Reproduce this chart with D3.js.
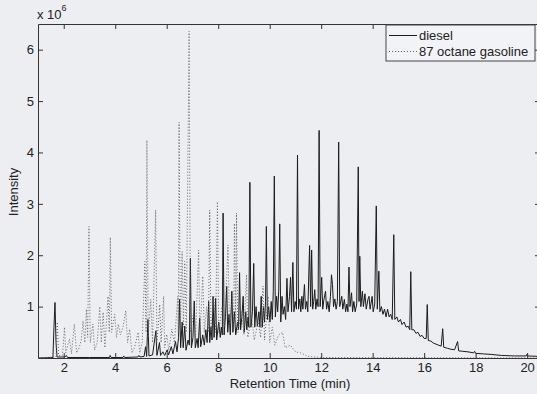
<!DOCTYPE html>
<html>
<head>
<meta charset="utf-8">
<script src="https://cdn.jsdelivr.net/npm/d3@7"></script>
<style>
  body { margin: 0; background: #eceef2; }
  svg text { font-family: "Liberation Sans", Arial, sans-serif; fill: #222; }
</style>
</head>
<body>
<svg id="chart" width="537" height="394"></svg>
<script>
// retention time (min), intensity (x 10^6)
const diesel = [
  [1.0,0.0],[1.58,0.01],[1.62,0.6],[1.66,1.08],[1.70,0.3],[1.74,0.02],[2.05,0.02],[2.1,0.05],[2.15,0.01],
  [3.0,0.01],[3.78,0.01],[3.8,0.05],[3.84,0.01],[4.3,0.01],[4.33,0.04],[4.37,0.01],[4.88,0.02],[4.92,0.05],[4.96,0.02],
  [5.12,0.03],[5.18,0.22],[5.22,0.03],[5.27,0.75],[5.31,0.04],[5.45,0.06],[5.58,0.53],[5.62,0.05],[5.72,0.3],[5.76,0.05],
  [5.85,0.12],[5.92,0.05],[6.02,0.16],[6.07,0.06],[6.18,0.22],[6.24,0.08],[6.34,0.32],[6.4,0.12],[6.46,0.4],[6.5,1.14],
  [6.54,0.2],[6.6,0.7],[6.64,0.2],[6.7,0.62],[6.75,0.15],[6.83,0.35],[6.88,0.25],[6.92,1.94],[6.96,0.2],[7.02,0.4],
  [7.07,1.11],[7.11,0.2],[7.18,0.38],[7.22,0.2],[7.28,0.78],[7.32,0.22],[7.4,0.45],[7.46,0.25],[7.52,0.55],[7.57,0.3],
  [7.63,1.1],[7.67,0.3],[7.72,0.6],[7.76,0.35],[7.8,1.2],[7.84,0.4],[7.9,1.16],[7.94,0.35],[8.02,0.7],[8.08,0.4],
  [8.12,0.6],[8.16,0.45],[8.19,2.82],[8.23,0.45],[8.28,0.8],[8.33,1.4],[8.37,0.5],[8.42,0.85],[8.47,0.45],[8.53,1.3],
  [8.57,0.5],[8.63,0.9],[8.68,0.45],[8.75,0.7],[8.79,0.55],[8.83,1.66],[8.87,0.55],[8.92,0.8],[8.97,1.2],[9.01,0.5],
  [9.07,0.9],[9.11,0.55],[9.16,0.8],[9.19,0.6],[9.23,3.42],[9.27,0.6],[9.33,0.9],[9.38,1.84],[9.42,0.6],[9.47,1.0],
  [9.52,0.62],[9.58,0.9],[9.62,0.6],[9.67,1.2],[9.71,0.6],[9.76,1.0],[9.8,0.7],[9.84,1.1],[9.87,2.56],[9.91,0.75],
  [9.96,1.0],[10.01,0.7],[10.06,1.1],[10.1,0.75],[10.14,1.3],[10.18,3.54],[10.22,0.8],[10.27,1.2],[10.31,0.9],[10.35,1.3],
  [10.39,2.61],[10.43,0.7],[10.48,1.2],[10.52,0.85],[10.57,1.0],[10.62,0.75],[10.67,1.55],[10.71,0.9],[10.77,1.2],[10.81,1.57],
  [10.85,0.9],[10.9,1.86],[10.94,0.9],[10.99,1.1],[11.04,0.95],[11.08,3.95],[11.12,0.95],[11.17,1.15],[11.21,0.9],[11.25,1.2],
  [11.29,0.95],[11.35,1.43],[11.39,0.95],[11.44,1.1],[11.48,0.9],[11.55,2.19],[11.59,1.0],[11.63,2.1],[11.67,0.95],[11.71,1.1],
  [11.75,1.33],[11.79,0.95],[11.84,1.15],[11.88,1.0],[11.92,4.43],[11.96,1.0],[12.02,1.57],[12.06,0.95],[12.11,1.15],[12.17,1.3],
  [12.21,0.95],[12.26,1.1],[12.31,0.9],[12.36,1.2],[12.4,1.62],[12.44,1.43],[12.48,1.0],[12.53,1.15],[12.58,0.95],[12.63,1.1],
  [12.68,4.2],[12.72,1.0],[12.8,1.2],[12.84,0.95],[12.9,1.14],[12.95,0.9],[13.0,1.05],[13.04,0.9],[13.08,1.77],[13.12,1.0],
  [13.18,1.27],[13.22,0.9],[13.27,1.1],[13.32,0.9],[13.38,1.05],[13.44,3.72],[13.47,1.1],[13.5,1.98],[13.54,1.0],[13.6,1.3],
  [13.64,1.0],[13.7,1.25],[13.75,0.95],[13.82,1.15],[13.86,1.2],[13.9,0.95],[13.98,1.2],[14.02,0.9],[14.08,1.05],[14.14,2.96],
  [14.18,0.95],[14.24,1.69],[14.28,0.9],[14.34,1.0],[14.4,0.85],[14.46,0.95],[14.52,0.8],[14.58,0.95],[14.64,0.8],[14.7,0.85],
  [14.76,0.75],[14.82,2.40],[14.86,0.75],[14.94,0.8],[15.0,0.7],[15.08,0.75],[15.14,0.65],[15.22,0.7],[15.3,0.6],[15.38,0.62],
  [15.44,0.55],[15.48,1.68],[15.52,0.55],[15.6,0.55],[15.68,0.48],[15.76,0.5],[15.84,0.42],[15.92,0.44],[16.0,0.38],[16.08,0.38],
  [16.12,1.04],[16.16,0.34],[16.26,0.33],[16.36,0.29],[16.46,0.27],[16.56,0.25],[16.66,0.23],[16.72,0.57],[16.76,0.21],[16.9,0.19],
  [17.04,0.17],[17.18,0.16],[17.3,0.32],[17.34,0.14],[17.5,0.13],[17.7,0.12],[17.92,0.1],[17.96,0.13],[18.0,0.09],[18.3,0.08],
  [18.6,0.07],[19.0,0.05],[19.5,0.04],[19.96,0.04],[19.99,0.07],[20.02,0.04],[20.5,0.03]
];

const gasoline = [
  [1.0,0.0],[1.7,0.02],[1.75,0.7],[1.8,0.05],[1.95,0.05],[2.03,0.6],[2.08,0.1],[2.22,0.37],[2.3,0.08],[2.41,0.66],
  [2.5,0.1],[2.6,0.2],[2.68,0.35],[2.75,0.72],[2.82,0.3],[2.88,0.95],[2.93,0.4],[2.98,2.56],[3.03,0.3],[3.13,0.66],
  [3.2,0.15],[3.3,0.3],[3.4,1.0],[3.46,0.3],[3.53,0.89],[3.6,0.2],[3.72,1.2],[3.77,0.5],[3.81,2.35],[3.86,0.5],
  [3.98,0.85],[4.05,0.4],[4.12,0.66],[4.2,0.45],[4.3,0.6],[4.41,0.92],[4.48,0.3],[4.56,0.56],[4.65,0.1],[4.75,0.2],
  [4.89,0.5],[4.95,0.1],[5.05,0.3],[5.15,1.88],[5.2,0.5],[5.23,4.24],[5.28,0.4],[5.38,1.14],[5.45,0.3],[5.57,2.88],
  [5.62,0.3],[5.73,1.04],[5.78,0.3],[5.88,1.2],[5.92,0.2],[6.0,0.46],[6.08,0.15],[6.2,0.56],[6.3,0.3],[6.43,1.2],
  [6.45,0.5],[6.48,4.59],[6.53,0.5],[6.6,2.07],[6.65,0.6],[6.7,1.88],[6.76,0.5],[6.87,6.36],[6.92,0.5],[7.05,0.9],
  [7.12,0.4],[7.24,2.1],[7.29,0.4],[7.4,1.59],[7.46,0.5],[7.55,1.0],[7.62,0.5],[7.67,2.88],[7.72,0.5],[7.83,1.2],
  [7.9,0.5],[7.97,3.04],[8.02,0.5],[8.15,1.0],[8.25,0.6],[8.38,2.2],[8.44,0.6],[8.55,1.2],[8.6,0.6],[8.63,2.62],
  [8.68,0.6],[8.71,2.82],[8.76,0.5],[8.9,0.9],[9.0,0.45],[9.1,1.62],[9.15,0.4],[9.3,0.8],[9.4,0.35],[9.55,0.7],
  [9.65,0.4],[9.74,1.4],[9.8,0.35],[9.94,1.2],[10.0,0.3],[10.1,0.6],[10.2,0.25],[10.35,0.45],[10.5,0.5],[10.6,0.2],
  [10.8,0.25],[11.0,0.12],[11.2,0.1],[11.5,0.03],[12.0,0.01],[20.5,0.0]
];

const xTicks = [2, 4, 6, 8, 10, 12, 14, 16, 18, 20];
const yTicks = [1, 2, 3, 4, 5, 6];
const seriesNames = ["diesel", "87 octane gasoline"];

const mLeft = 38, mRight = 540, mTop = 24, mBottom = 358;
const svg = d3.select("#chart");

const x = d3.scaleLinear().domain([1, 20.5]).range([mLeft, mRight]);
const y = d3.scaleLinear().domain([0, 6.5]).range([mBottom, mTop]);

svg.append("defs").append("clipPath").attr("id", "plot")
  .append("rect").attr("x", mLeft).attr("y", mTop)
  .attr("width", mRight - mLeft).attr("height", mBottom - mTop);

const line = d3.line().x(d => x(d[0])).y(d => y(d[1]));

svg.append("path").datum(diesel)
  .attr("clip-path", "url(#plot)")
  .attr("d", line).attr("fill", "none")
  .attr("stroke", "#1b1b1b").attr("stroke-width", 1);

svg.append("path").datum(gasoline)
  .attr("clip-path", "url(#plot)")
  .attr("d", line).attr("fill", "none")
  .attr("stroke", "#666").attr("stroke-width", 1)
  .attr("stroke-dasharray", "1,2");

// axes, ticks pointing inward
function styleAxis(g) {
  g.select(".domain").attr("stroke", "#333");
  g.selectAll(".tick line").attr("stroke", "#333");
  g.selectAll(".tick text").attr("font-size", 13).attr("fill", "#222")
    .attr("font-family", "Liberation Sans, Arial, sans-serif");
}
svg.append("g").attr("transform", `translate(0,${mBottom})`)
  .call(d3.axisBottom(x).tickValues(xTicks).tickSize(-5).tickSizeOuter(0).tickPadding(5))
  .call(styleAxis);
svg.append("g").attr("transform", `translate(0,${mTop})`)
  .call(d3.axisTop(x).tickValues(xTicks).tickSize(-5).tickSizeOuter(0).tickFormat(""))
  .call(styleAxis);
svg.append("g").attr("transform", `translate(${mLeft},0)`)
  .call(d3.axisLeft(y).tickValues(yTicks).tickFormat(d3.format("d"))
    .tickSize(-5).tickSizeOuter(0).tickPadding(4))
  .call(styleAxis);
svg.append("g").attr("transform", `translate(${mRight},0)`)
  .call(d3.axisRight(y).tickValues(yTicks).tickSize(-5).tickSizeOuter(0).tickFormat(""))
  .call(styleAxis);

// exponent label
const ex = svg.append("text").attr("x", 37).attr("y", 19).attr("font-size", 13);
ex.append("tspan").text("x 10");
ex.append("tspan").attr("dy", -8).attr("font-size", 9).text("6");

svg.append("text").attr("x", 290).attr("y", 388)
  .attr("text-anchor", "middle").attr("font-size", 13)
  .text("Retention Time (min)");

svg.append("text").attr("transform", "translate(18,192) rotate(-90)")
  .attr("text-anchor", "middle").attr("font-size", 13)
  .text("Intensity");

// legend
const lg = svg.append("g");
lg.append("rect").attr("x", 386).attr("y", 25).attr("width", 149).attr("height", 36)
  .attr("fill", "#f2f3f6").attr("stroke", "#444").attr("stroke-width", 1);
seriesNames.forEach((name, i) => {
  const ly = 35.5 + i * 16;
  lg.append("line").attr("x1", 389).attr("x2", 417).attr("y1", ly).attr("y2", ly)
    .attr("stroke", i ? "#666" : "#1b1b1b").attr("stroke-width", 1)
    .attr("stroke-dasharray", i ? "1,2" : null);
  lg.append("text").attr("x", 419).attr("y", ly + 4.5).attr("font-size", 13).text(name);
});
</script>
</body>
</html>
